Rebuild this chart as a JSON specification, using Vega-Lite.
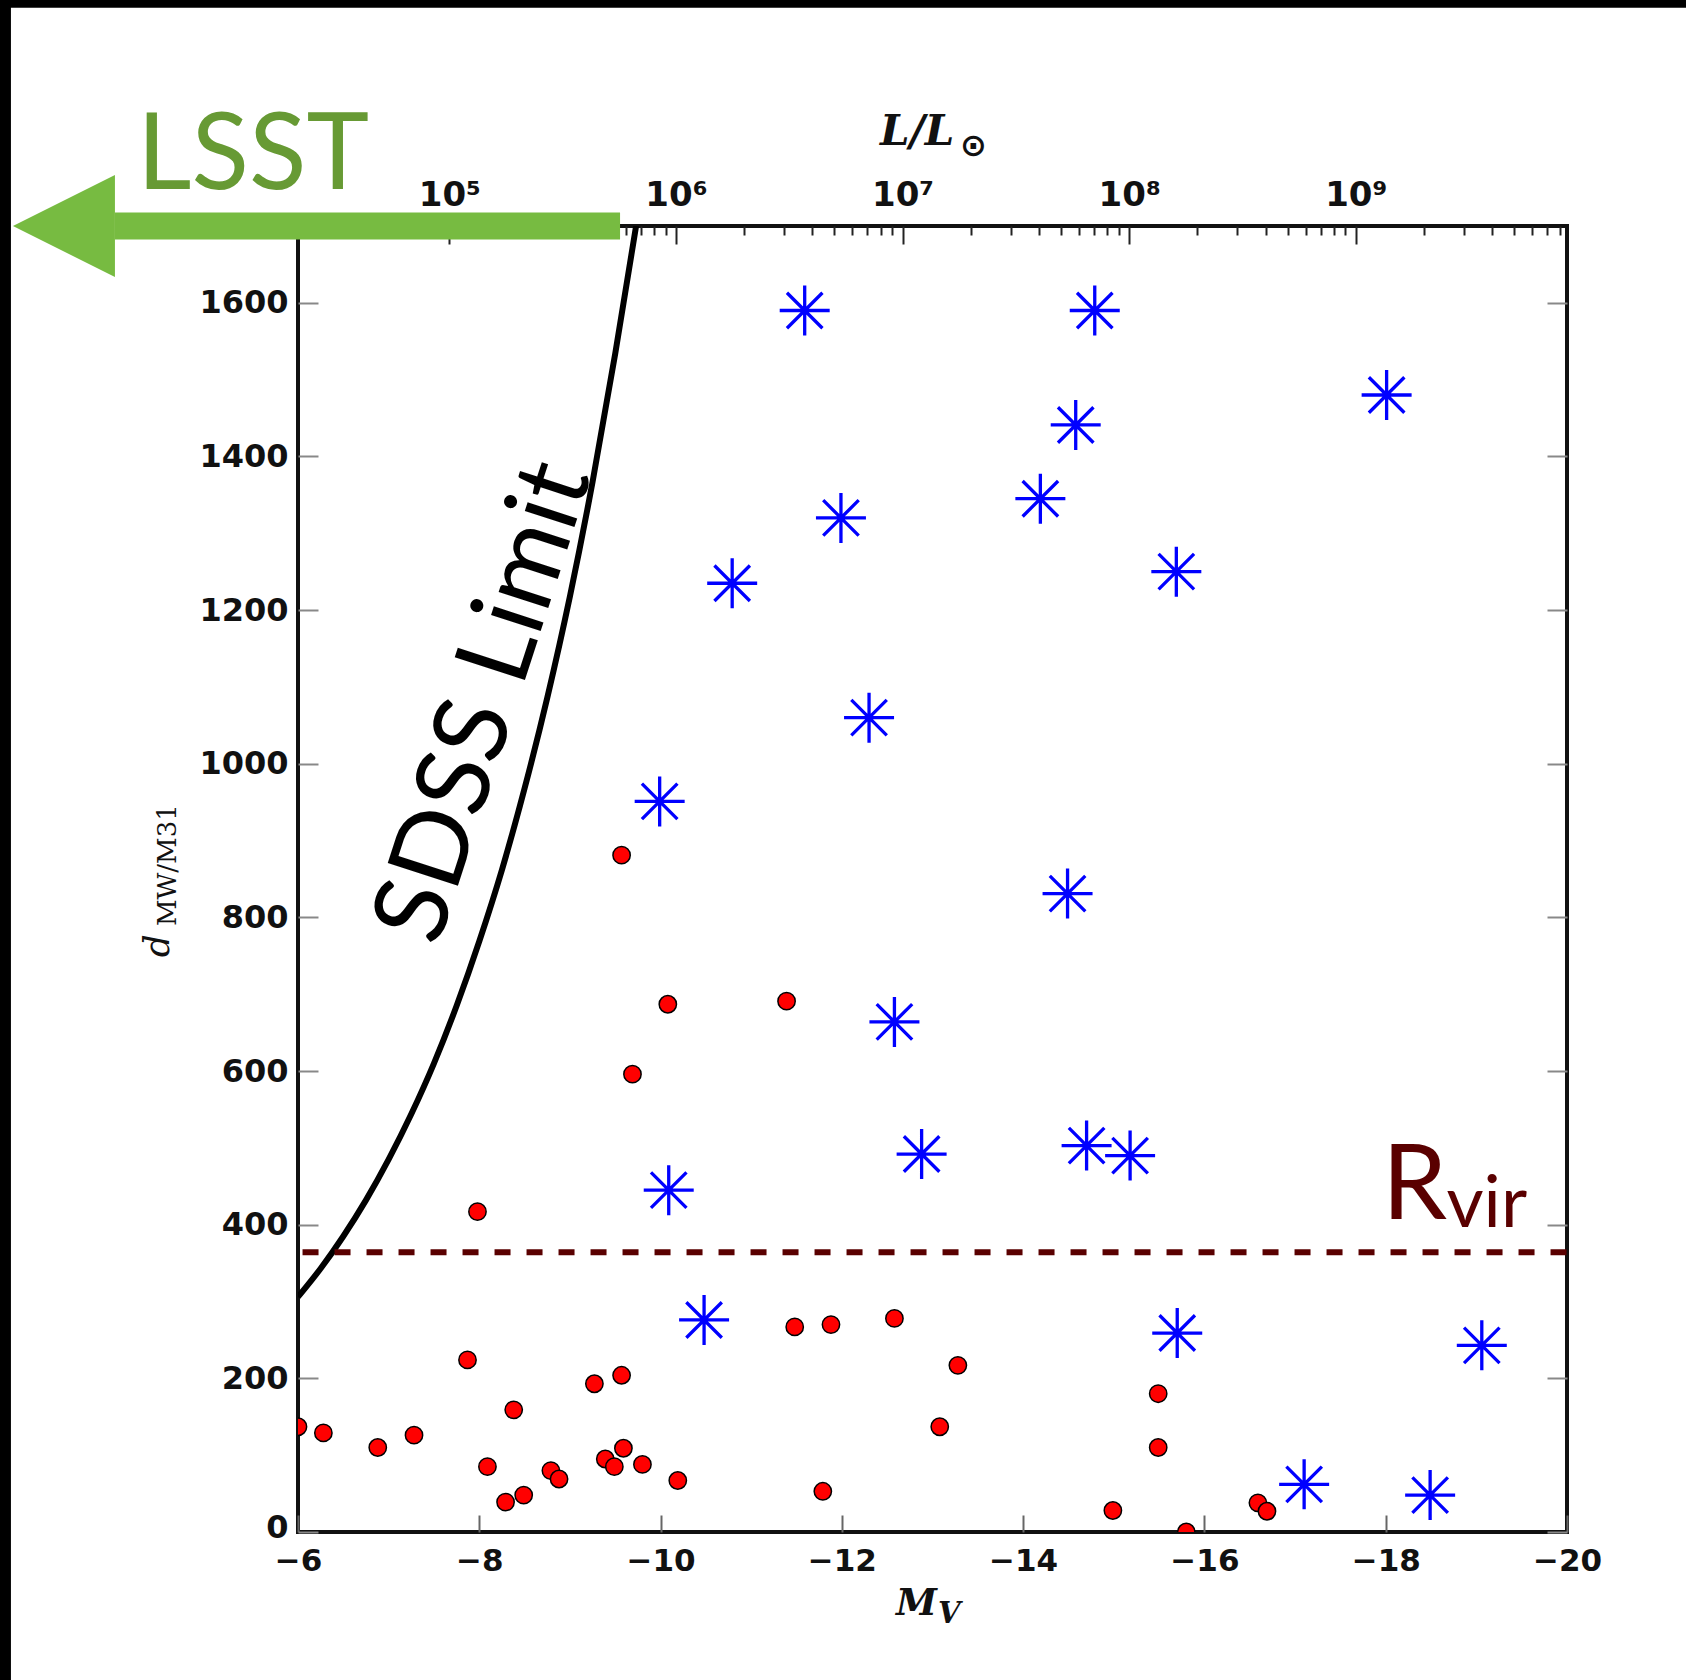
{
  "$schema": "https://vega.github.io/schema/vega-lite/v6.json",
  "width": 1269,
  "height": 1306,
  "autosize": {"type": "none"},
  "padding": {"left": 298, "top": 226, "right": 119, "bottom": 148},
  "background": "white",
  "config": {
    "view": {"stroke": "#111111", "strokeWidth": 4},
    "axis": {"labelFont": "DejaVu Sans", "labelFontWeight": "bold", "labelColor": "#111111", "domain": false, "grid": false}
  },
  "datasets": {
    "red": [
      {"M": -9.57, "d": 881}, {"M": -10.08, "d": 687}, {"M": -11.39, "d": 691}, {"M": -9.69, "d": 596},
      {"M": -7.98, "d": 417}, {"M": -7.87, "d": 224}, {"M": -9.57, "d": 204}, {"M": -9.27, "d": 193},
      {"M": -8.38, "d": 159}, {"M": -6.0, "d": 137}, {"M": -6.28, "d": 129}, {"M": -6.88, "d": 110},
      {"M": -7.28, "d": 126}, {"M": -8.09, "d": 85}, {"M": -8.29, "d": 39}, {"M": -8.49, "d": 48},
      {"M": -8.79, "d": 80}, {"M": -8.88, "d": 69}, {"M": -9.39, "d": 95}, {"M": -9.49, "d": 85},
      {"M": -9.59, "d": 109}, {"M": -9.8, "d": 88}, {"M": -10.19, "d": 67}, {"M": -11.48, "d": 267},
      {"M": -11.88, "d": 270}, {"M": -12.58, "d": 278}, {"M": -13.28, "d": 217}, {"M": -13.08, "d": 137},
      {"M": -11.79, "d": 53}, {"M": -15.49, "d": 180}, {"M": -15.49, "d": 110}, {"M": -14.99, "d": 28},
      {"M": -15.8, "d": 0}, {"M": -16.59, "d": 38}, {"M": -16.69, "d": 27}
    ],
    "blue": [
      {"M": -11.59, "d": 1590}, {"M": -14.79, "d": 1590}, {"M": -18.01, "d": 1480}, {"M": -14.58, "d": 1441},
      {"M": -14.19, "d": 1345}, {"M": -11.99, "d": 1320}, {"M": -10.79, "d": 1235}, {"M": -15.69, "d": 1250},
      {"M": -12.3, "d": 1060}, {"M": -9.99, "d": 951}, {"M": -14.49, "d": 831}, {"M": -12.58, "d": 664},
      {"M": -12.88, "d": 492}, {"M": -14.7, "d": 503}, {"M": -15.18, "d": 490}, {"M": -10.09, "d": 445},
      {"M": -10.48, "d": 276}, {"M": -15.7, "d": 259}, {"M": -19.06, "d": 243}, {"M": -17.1, "d": 62},
      {"M": -18.49, "d": 48}
    ],
    "curve": [
      {"M": -6.0, "d": 306}, {"M": -6.25, "d": 343}, {"M": -6.5, "d": 385}, {"M": -6.75, "d": 432},
      {"M": -7.0, "d": 485}, {"M": -7.25, "d": 544}, {"M": -7.5, "d": 610}, {"M": -7.75, "d": 685},
      {"M": -8.0, "d": 769}, {"M": -8.25, "d": 862}, {"M": -8.5, "d": 968}, {"M": -8.75, "d": 1086},
      {"M": -9.0, "d": 1218}, {"M": -9.25, "d": 1367}, {"M": -9.5, "d": 1534}, {"M": -9.73, "d": 1700}
    ],
    "topaxis": [{"L": 100000, "dd": 0}],
    "one": [{}]
  },
  "resolve": {"scale": {"x": "independent", "y": "independent"}},
  "layer": [
    {
      "data": {"name": "red"},
      "mark": {"type": "point", "shape": "circle", "filled": true, "fill": "#ff0000", "stroke": "#000000", "strokeWidth": 1.5, "size": 300, "opacity": 1, "clip": true},
      "encoding": {
        "x": {"field": "M", "type": "quantitative",
          "scale": {"domain": [-20, -6], "reverse": true, "nice": false, "zero": false},
          "axis": {"orient": "bottom", "title": null, "values": [-6, -8, -10, -12, -14, -16, -18, -20], "format": "d", "labelFontSize": 31, "tickSize": -17, "tickColor": "#666666", "tickWidth": 2, "labelPadding": 31, "labelFlush": false, "labelOverlap": false}},
        "y": {"field": "d", "type": "quantitative",
          "scale": {"domain": [0, 1700], "nice": false, "zero": false},
          "axis": {"orient": "left", "title": null, "values": [0, 200, 400, 600, 800, 1000, 1200, 1400, 1600], "format": "d", "labelFontSize": 32, "tickSize": -20, "tickColor": "#888888", "tickWidth": 2, "labelPadding": 30, "labelFlush": false, "labelOverlap": false,
            "labelOffset": {"condition": {"test": "datum.value === 0", "value": -5}, "value": 0}}}
      }
    },
    {
      "data": {"name": "topaxis"},
      "mark": {"type": "point", "opacity": 0},
      "encoding": {
        "x": {"field": "L", "type": "quantitative",
          "scale": {"type": "log", "domain": [21478, 8551000000], "nice": false},
          "axis": {"orient": "top", "title": null,
            "values": [30000, 40000, 50000, 60000, 70000, 80000, 90000,
                       100000, 200000, 300000, 400000, 500000, 600000, 700000, 800000, 900000,
                       1000000, 2000000, 3000000, 4000000, 5000000, 6000000, 7000000, 8000000, 9000000,
                       10000000, 20000000, 30000000, 40000000, 50000000, 60000000, 70000000, 80000000, 90000000,
                       100000000, 200000000, 300000000, 400000000, 500000000, 600000000, 700000000, 800000000, 900000000,
                       1000000000, 2000000000, 3000000000, 4000000000, 5000000000, 6000000000, 7000000000, 8000000000],
            "labelExpr": "indexof([100000,1000000,10000000,100000000,1000000000], datum.value) >= 0 ? '10' + ['⁵','⁶','⁷','⁸','⁹'][indexof([100000,1000000,10000000,100000000,1000000000], datum.value)] : ''",
            "labelFontSize": 34, "labelOverlap": false, "labelFlush": false, "labelBound": false,
            "tickSize": {"condition": {"test": "indexof([100000,1000000,10000000,100000000,1000000000], datum.value) >= 0", "value": -18}, "value": -9},
            "tickColor": "#222222", "tickWidth": 2, "labelPadding": 32}},
        "y": {"field": "dd", "type": "quantitative",
          "scale": {"domain": [0, 1700], "nice": false, "zero": false},
          "axis": {"orient": "right", "title": null, "values": [0, 200, 400, 600, 800, 1000, 1200, 1400, 1600], "labels": false, "tickSize": -20, "tickColor": "#888888", "tickWidth": 2}}
      }
    },
    {
      "data": {"name": "curve"},
      "mark": {"type": "line", "color": "#000000", "strokeWidth": 6, "interpolate": "monotone", "clip": true},
      "encoding": {
        "x": {"field": "M", "type": "quantitative", "scale": {"domain": [-20, -6], "reverse": true, "nice": false, "zero": false}, "axis": null},
        "y": {"field": "d", "type": "quantitative", "scale": {"domain": [0, 1700], "nice": false, "zero": false}, "axis": null}
      }
    },
    {
      "data": {"name": "one"},
      "mark": {"type": "rule", "color": "#5a0000", "strokeWidth": 6, "strokeDash": [16, 16]},
      "encoding": {
        "x": {"datum": -6.05, "type": "quantitative", "scale": {"domain": [-20, -6], "reverse": true, "nice": false, "zero": false}, "axis": null},
        "x2": {"datum": -20},
        "y": {"datum": 364, "type": "quantitative", "scale": {"domain": [0, 1700], "nice": false, "zero": false}, "axis": null}
      }
    },
    {
      "data": {"name": "blue"},
      "mark": {"type": "point", "shape": "M0,-1L0,1M-1,0L1,0M-0.71,-0.71L0.71,0.71M-0.71,0.71L0.71,-0.71", "filled": false, "stroke": "#0000ff", "strokeWidth": 3.3, "size": 2500, "opacity": 1},
      "encoding": {
        "x": {"field": "M", "type": "quantitative", "scale": {"domain": [-20, -6], "reverse": true, "nice": false, "zero": false}, "axis": null},
        "y": {"field": "d", "type": "quantitative", "scale": {"domain": [0, 1700], "nice": false, "zero": false}, "axis": null}
      }
    },
    {
      "data": {"name": "one"},
      "mark": {"type": "rule", "color": "#77bb41", "strokeWidth": 27, "strokeCap": "butt", "clip": false},
      "encoding": {
        "x": {"datum": -3.98, "type": "quantitative", "scale": {"domain": [-20, -6], "reverse": true, "nice": false, "zero": false}, "axis": null},
        "x2": {"datum": -9.553},
        "y": {"datum": 1700, "type": "quantitative", "scale": {"domain": [0, 1700], "nice": false, "zero": false}, "axis": null}
      }
    },
    {
      "data": {"name": "one"},
      "mark": {"type": "point", "shape": "M-1,0L1,-1L1,1Z", "filled": true, "fill": "#77bb41", "strokeWidth": 0, "size": 10404, "opacity": 1, "clip": false},
      "encoding": {
        "x": {"datum": -3.418, "type": "quantitative", "scale": {"domain": [-20, -6], "reverse": true, "nice": false, "zero": false}, "axis": null},
        "y": {"datum": 1700, "type": "quantitative", "scale": {"domain": [0, 1700], "nice": false, "zero": false}, "axis": null}
      }
    },
    {
      "data": {"name": "one"},
      "mark": {"type": "rect", "color": "#000000", "clip": false},
      "encoding": {
        "x": {"datum": -2.5, "type": "quantitative", "scale": {"domain": [-20, -6], "reverse": true, "nice": false, "zero": false}, "axis": null},
        "x2": {"datum": -2.833},
        "y": {"datum": 2050, "type": "quantitative", "scale": {"domain": [0, 1700], "nice": false, "zero": false}, "axis": null},
        "y2": {"datum": -250}
      }
    },
    {
      "data": {"name": "one"},
      "mark": {"type": "rect", "color": "#000000", "clip": false},
      "encoding": {
        "x": {"datum": -2.5, "type": "quantitative", "scale": {"domain": [-20, -6], "reverse": true, "nice": false, "zero": false}, "axis": null},
        "x2": {"datum": -21.5},
        "y": {"datum": 2050, "type": "quantitative", "scale": {"domain": [0, 1700], "nice": false, "zero": false}, "axis": null},
        "y2": {"datum": 1984}
      }
    },
    {
      "data": {"name": "one"},
      "mark": {"type": "text", "text": "LSST", "font": "Lato", "fontSize": 106, "color": "#679a34", "align": "left", "baseline": "alphabetic", "clip": false},
      "encoding": {
        "x": {"datum": -4.224, "type": "quantitative", "scale": {"domain": [-20, -6], "reverse": true, "nice": false, "zero": false}, "axis": null},
        "y": {"datum": 1748, "type": "quantitative", "scale": {"domain": [0, 1700], "nice": false, "zero": false}, "axis": null}
      }
    },
    {
      "data": {"name": "one"},
      "mark": {"type": "text", "text": "SDSS Limit", "font": "Lato", "fontSize": 103, "color": "#000000", "align": "center", "baseline": "middle", "angle": -72, "clip": false},
      "encoding": {
        "x": {"datum": -8.063, "type": "quantitative", "scale": {"domain": [-20, -6], "reverse": true, "nice": false, "zero": false}, "axis": null},
        "y": {"datum": 1080, "type": "quantitative", "scale": {"domain": [0, 1700], "nice": false, "zero": false}, "axis": null}
      }
    },
    {
      "data": {"name": "one"},
      "mark": {"type": "text", "text": "R", "font": "Lato", "fontSize": 104, "color": "#5a0000", "align": "left", "baseline": "alphabetic", "clip": false},
      "encoding": {
        "x": {"datum": -17.96, "type": "quantitative", "scale": {"domain": [-20, -6], "reverse": true, "nice": false, "zero": false}, "axis": null},
        "y": {"datum": 407, "type": "quantitative", "scale": {"domain": [0, 1700], "nice": false, "zero": false}, "axis": null}
      }
    },
    {
      "data": {"name": "one"},
      "mark": {"type": "text", "text": "vir", "font": "Lato", "fontSize": 72, "color": "#5a0000", "align": "left", "baseline": "alphabetic", "clip": false},
      "encoding": {
        "x": {"datum": -18.67, "type": "quantitative", "scale": {"domain": [-20, -6], "reverse": true, "nice": false, "zero": false}, "axis": null},
        "y": {"datum": 397, "type": "quantitative", "scale": {"domain": [0, 1700], "nice": false, "zero": false}, "axis": null}
      }
    },
    {
      "data": {"name": "one"},
      "mark": {"type": "text", "text": "M", "font": "DejaVu Serif", "fontStyle": "italic", "fontWeight": "bold", "fontSize": 37, "color": "#111111", "align": "left", "baseline": "alphabetic", "clip": false},
      "encoding": {
        "x": {"datum": -12.597, "type": "quantitative", "scale": {"domain": [-20, -6], "reverse": true, "nice": false, "zero": false}, "axis": null},
        "y": {"datum": -108, "type": "quantitative", "scale": {"domain": [0, 1700], "nice": false, "zero": false}, "axis": null}
      }
    },
    {
      "data": {"name": "one"},
      "mark": {"type": "text", "text": "V", "font": "DejaVu Serif", "fontStyle": "italic", "fontWeight": "bold", "fontSize": 29, "color": "#111111", "align": "left", "baseline": "alphabetic", "clip": false},
      "encoding": {
        "x": {"datum": -13.06, "type": "quantitative", "scale": {"domain": [-20, -6], "reverse": true, "nice": false, "zero": false}, "axis": null},
        "y": {"datum": -118, "type": "quantitative", "scale": {"domain": [0, 1700], "nice": false, "zero": false}, "axis": null}
      }
    },
    {
      "data": {"name": "one"},
      "mark": {"type": "text", "text": "d", "font": "DejaVu Serif", "fontStyle": "italic", "fontSize": 36, "color": "#111111", "align": "center", "baseline": "middle", "angle": -90, "clip": false},
      "encoding": {
        "x": {"datum": -4.455, "type": "quantitative", "scale": {"domain": [-20, -6], "reverse": true, "nice": false, "zero": false}, "axis": null},
        "y": {"datum": 763, "type": "quantitative", "scale": {"domain": [0, 1700], "nice": false, "zero": false}, "axis": null}
      }
    },
    {
      "data": {"name": "one"},
      "mark": {"type": "text", "text": "MW/M31", "font": "DejaVu Serif", "fontSize": 26, "color": "#111111", "align": "center", "baseline": "middle", "angle": -90, "clip": false},
      "encoding": {
        "x": {"datum": -4.565, "type": "quantitative", "scale": {"domain": [-20, -6], "reverse": true, "nice": false, "zero": false}, "axis": null},
        "y": {"datum": 868, "type": "quantitative", "scale": {"domain": [0, 1700], "nice": false, "zero": false}, "axis": null}
      }
    },
    {
      "data": {"name": "one"},
      "mark": {"type": "text", "text": "L/L", "font": "DejaVu Serif", "fontStyle": "italic", "fontWeight": "bold", "fontSize": 42, "color": "#111111", "align": "left", "baseline": "alphabetic", "clip": false},
      "encoding": {
        "x": {"datum": -12.42, "type": "quantitative", "scale": {"domain": [-20, -6], "reverse": true, "nice": false, "zero": false}, "axis": null},
        "y": {"datum": 1805, "type": "quantitative", "scale": {"domain": [0, 1700], "nice": false, "zero": false}, "axis": null}
      }
    },
    {
      "data": {"name": "one"},
      "mark": {"type": "text", "text": "⊙", "font": "DejaVu Sans", "fontWeight": "bold", "fontSize": 32, "color": "#111111", "align": "center", "baseline": "middle", "clip": false},
      "encoding": {
        "x": {"datum": -13.45, "type": "quantitative", "scale": {"domain": [-20, -6], "reverse": true, "nice": false, "zero": false}, "axis": null},
        "y": {"datum": 1804, "type": "quantitative", "scale": {"domain": [0, 1700], "nice": false, "zero": false}, "axis": null}
      }
    }
  ]
}
